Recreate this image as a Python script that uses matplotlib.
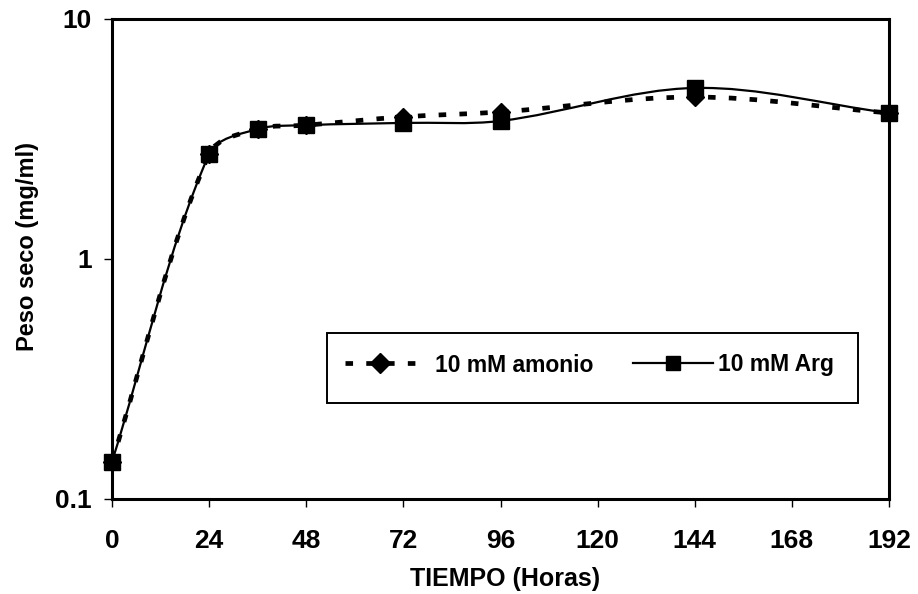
import numpy as np
import matplotlib
matplotlib.use("Agg")
import matplotlib.pyplot as plt
from matplotlib.path import Path
from matplotlib.patches import PathPatch, Rectangle
from matplotlib.lines import Line2D

plt.rcParams['font.family'] = ['Liberation Sans', 'DejaVu Sans']
plt.rcParams['font.weight'] = 'bold'

# Time points (hours)
horas = [0, 24, 36, 48, 72, 96, 144, 192]
# Dry weight (mg/ml)
amonio = [0.143, 2.74, 3.48, 3.61, 3.91, 4.10, 4.73, 4.06]
arginina = [0.143, 2.74, 3.48, 3.61, 3.69, 3.76, 5.16, 4.06]

xticks = [0, 24, 48, 72, 96, 120, 144, 168, 192]
yticks = [0.1, 1, 10]
ylabels = ['0.1', '1', '10']

nombre_amonio = '10 mM amonio'
nombre_arg = '10 mM Arg'

XMAX = 192
YMIN, YMAX = 0.1, 10


def smooth_path(x, y, ax_w=777.0, ax_h=480.0):
    """Chord-length weighted Bezier spline through the points.

    Control points are computed in a screen-like frame (x linear, y log)
    and mapped back to data coordinates.
    """
    x = np.asarray(x, float)
    ly = np.log10(np.asarray(y, float))
    sx = ax_w / XMAX
    sy = ax_h / (np.log10(YMAX) - np.log10(YMIN))
    pts = np.column_stack([x * sx, ly * sy])
    n = len(pts)
    d = np.hypot(*np.diff(pts, axis=0).T)
    verts = [pts[0]]
    codes = [Path.MOVETO]
    for i in range(n - 1):
        p1, p2 = pts[i], pts[i + 1]
        if i > 0:
            m1 = (p2 - pts[i - 1]) * d[i] / (3 * (d[i - 1] + d[i]))
        else:
            m1 = (p2 - p1) / 3
        if i + 2 < n:
            m2 = (pts[i + 2] - p1) * d[i] / (3 * (d[i] + d[i + 1]))
        else:
            m2 = (p2 - p1) / 3
        verts += [p1 + m1, p2 - m2, p2]
        codes += [Path.CURVE4] * 3
    verts = np.array(verts)
    verts[:, 0] /= sx
    verts[:, 1] = 10 ** (verts[:, 1] / sy)
    return Path(verts, codes)


fig = plt.figure(figsize=(9.18, 5.94), dpi=100)
ax = fig.add_axes([112 / 918, 1 - 499 / 594, 777 / 918, 480 / 594])
ax.set_yscale('log')
ax.set_xlim(0, XMAX)
ax.set_ylim(YMIN, YMAX)

dots = (0, (1.6, 2.8))

# Ammonium series: dotted smoothed line with diamond markers
p1 = PathPatch(smooth_path(horas, amonio), facecolor='none', edgecolor='black',
               lw=3.4, linestyle=dots, capstyle='butt', zorder=3)
ax.add_patch(p1)
ax.plot(horas, amonio, linestyle='none', marker='D', ms=9.5, color='black',
        zorder=4, clip_on=False)

# Arginine series: solid smoothed line with square markers
p2 = PathPatch(smooth_path(horas, arginina), facecolor='none', edgecolor='black',
               lw=1.6, zorder=3)
ax.add_patch(p2)
ax.plot(horas, arginina, linestyle='none', marker='s', ms=11, color='black',
        zorder=5, clip_on=False)

ax.set_xticks(xticks)
ax.set_xticklabels([str(t) for t in xticks])
ax.set_yticks(yticks)
ax.set_yticklabels(ylabels)
ax.yaxis.set_minor_locator(matplotlib.ticker.NullLocator())
ax.tick_params(axis='both', direction='out', length=5.5, width=1.0,
               labelsize=19)
ax.tick_params(axis='x', pad=16)
ax.tick_params(axis='y', pad=9)
for lab in ax.get_xticklabels() + ax.get_yticklabels():
    lab.set_fontweight('bold')
for s in ax.spines.values():
    s.set_linewidth(2.2)

ax.set_xlabel('TIEMPO (Horas)', fontsize=18, fontweight='bold')
ax.xaxis.set_label_coords(0.506, -0.142)
ax.set_ylabel('Peso seco (mg/ml)', fontsize=17, fontweight='bold')
ax.yaxis.set_label_coords(-0.109, 0.527)
ax.yaxis.label.set_va('center')

# Legend: one frame holding two entries laid out side by side
fs = 16.5
em = fs * 100 / 72.0
frame = Rectangle((327 / 918, 1 - 403 / 594), 531 / 918, 70 / 594,
                  transform=fig.transFigure, facecolor='white',
                  edgecolor='black', lw=1.4, zorder=6, clip_on=False)
ax.add_patch(frame)

h1 = Line2D([], [], color='black', lw=3.4, linestyle=dots,
            marker='D', ms=10, dash_capstyle='butt')
h2 = Line2D([], [], color='black', lw=1.6, linestyle='-', marker='s', ms=9.5)
yc = 1 - 365 / 594
leg1 = ax.legend([h1], [nombre_amonio], loc='center left',
                 bbox_to_anchor=(345 / 918, yc), bbox_transform=fig.transFigure,
                 frameon=False, fontsize=fs, borderpad=0, borderaxespad=0,
                 handlelength=70 / em, handletextpad=20 / em)
leg1.set_zorder(7)
ax.add_artist(leg1)
leg2 = ax.legend([h2], [nombre_arg], loc='center left',
                 bbox_to_anchor=(633 / 918, yc), bbox_transform=fig.transFigure,
                 frameon=False, fontsize=fs, borderpad=0, borderaxespad=0,
                 handlelength=80 / em, handletextpad=5 / em)
leg2.set_zorder(7)
for lg in (leg1, leg2):
    for t in lg.get_texts():
        t.set_fontweight('bold')

fig.savefig('out.png', dpi=100)
